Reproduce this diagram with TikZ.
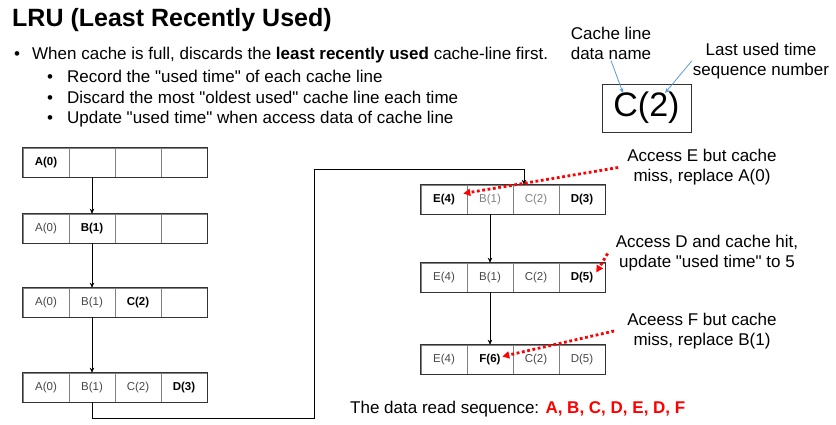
\documentclass[tikz,border=0pt]{standalone}
\usepackage{fontspec}
\setmainfont{Liberation Sans}
\usetikzlibrary{arrows.meta}

\tikzset{
  cell/.style={minimum width=46pt, minimum height=29pt, draw=black!50,
               inner sep=0, line width=0.6pt, font=\fontsize{11.5}{13}\selectfont},
  newdata/.style={text=black, font=\fontsize{11.5}{13}\selectfont\bfseries},
  olddata/.style={text=black!72},
  faded/.style={text=black!50},
  rowframe/.style={draw=black!80, line width=0.8pt},
  flow arrow/.style={-{Stealth[length=5pt,width=4.5pt]}, black, line width=0.7pt},
  miss arrow/.style={-{Triangle[length=7pt,width=7pt]}, red, line width=2.8pt,
                     dash pattern=on 2.8pt off 2.6pt},
  label arrow/.style={-{Stealth[length=5pt,width=4pt]}, lblue, line width=0.8pt},
  body text/.style={font=\fontsize{17}{20}\selectfont, inner sep=0},
  callout/.style={font=\fontsize{17}{20}\selectfont, align=center, inner sep=1pt},
}
\definecolor{lblue}{HTML}{5B9BD5}

\begin{document}
\begin{tikzpicture}[x=1pt, y=-1pt]
    \useasboundingbox (0,0) rectangle (836,425);

    % --- heading and bullets ---
    \node[anchor=base west, inner sep=0, font=\fontsize{25}{30}\selectfont\bfseries]
      (title) at (12,27) {LRU (Least Recently Used)};
    \node[anchor=base west, body text] (dot1) at (14,60) {\textbullet};
    \node[anchor=base west, body text] (item1) at (32,60)
      {When cache is full, discards the \textbf{least recently used} cache-line first.};
    \node[anchor=base west, body text] (dot2) at (47,83) {\textbullet};
    \node[anchor=base west, body text] (item2) at (67,83)
      {Record the \textquotedbl used time\textquotedbl{} of each cache line};
    \node[anchor=base west, body text] (dot3) at (47,104) {\textbullet};
    \node[anchor=base west, body text] (item3) at (67,104)
      {Discard the most \textquotedbl oldest used\textquotedbl{} cache line each time};
    \node[anchor=base west, body text] (dot4) at (47,124) {\textbullet};
    \node[anchor=base west, body text] (item4) at (67,124)
      {Update \textquotedbl used time\textquotedbl{} when access data of cache line};

    % --- legend: C(2) ---
    \node[draw=black!80, line width=0.8pt, minimum width=89pt, minimum height=48pt,
          inner sep=0, font=\fontsize{34}{40}\selectfont] (cbox) at (646.5,108) {C(2)};
    \node[callout, align=left] (namelbl) at (611,43) {Cache line\\data name};
    \node[callout] (seqlbl) at (761,61) {Last used time\\sequence number};
    \coordinate (nametip) at (623,93);
    \coordinate (seqtip) at (665,93);
    \draw[label arrow] (namelbl.south) -- (nametip);
    \draw[label arrow] (seqlbl.west) -- (seqtip);

    % --- left column: A, B, C, D ---
    \foreach \c/\t/\s in {1/A(0)/newdata, 2//olddata, 3//olddata, 4//olddata}
      \node[cell, \s] (L1c\c) at (\c*46, 162.5) {\t};
    \draw[rowframe] (L1c1.north west) rectangle (L1c4.south east);

    \foreach \c/\t/\s in {1/A(0)/olddata, 2/B(1)/newdata, 3//olddata, 4//olddata}
      \node[cell, \s] (L2c\c) at (\c*46, 228.5) {\t};
    \draw[rowframe] (L2c1.north west) rectangle (L2c4.south east);

    \foreach \c/\t/\s in {1/A(0)/olddata, 2/B(1)/olddata, 3/C(2)/newdata, 4//olddata}
      \node[cell, \s] (L3c\c) at (\c*46, 302.5) {\t};
    \draw[rowframe] (L3c1.north west) rectangle (L3c4.south east);

    \foreach \c/\t/\s in {1/A(0)/olddata, 2/B(1)/olddata, 3/C(2)/olddata, 4/D(3)/newdata}
      \node[cell, \s] (L4c\c) at (\c*46, 387.5) {\t};
    \draw[rowframe] (L4c1.north west) rectangle (L4c4.south east);

    \draw[flow arrow] (L1c2) -- (L2c2);
    \draw[flow arrow] (L2c2) -- (L3c2);
    \draw[flow arrow] (L3c2) -- (L4c2);

    % --- right column: E, D, F ---
    \foreach \c/\t/\s in {1/E(4)/newdata, 2/B(1)/faded, 3/C(2)/faded, 4/D(3)/newdata}
      \node[cell, \s] (R1c\c) at (398+\c*46, 199.5) {\t};
    \draw[rowframe] (R1c1.north west) rectangle (R1c4.south east);

    \foreach \c/\t/\s in {1/E(4)/olddata, 2/B(1)/olddata, 3/C(2)/olddata, 4/D(5)/newdata}
      \node[cell, \s] (R2c\c) at (398+\c*46, 277.5) {\t};
    \draw[rowframe] (R2c1.north west) rectangle (R2c4.south east);

    \foreach \c/\t/\s in {1/E(4)/olddata, 2/F(6)/newdata, 3/C(2)/olddata, 4/D(5)/olddata}
      \node[cell, \s] (R3c\c) at (398+\c*46, 359.5) {\t};
    \draw[rowframe] (R3c1.north west) rectangle (R3c4.south east);

    \coordinate (bend1) at (314,418);
    \coordinate (bend2) at (524,169);
    \draw[flow arrow] (L4c2.south) |- (bend1) |- (bend2) -- (bend2 |- R1c3.north);
    \draw[flow arrow] (R1c2) -- (R2c2);
    \draw[flow arrow] (R2c2) -- (R3c2);

    % --- callouts ---
    \node[callout] (noteE) at (702,167.5) {Access E but cache\\miss, replace A(0)};
    \node[callout] (noteD) at (707,253.5) {Access D and cache hit,\\update \textquotedbl used time\textquotedbl{} to 5};
    \node[callout] (noteF) at (702,331) {Aceess F but cache\\miss, replace B(1)};
    \draw[miss arrow] ([xshift=-8pt]noteE.west) -- ([xshift=-4pt,yshift=6pt]R1c1.east);
    \draw[miss arrow] ([xshift=-7pt]noteD.west) -- ([xshift=-9pt,yshift=5pt]R2c4.east);
    \draw[miss arrow] ([xshift=-12pt]noteF.west) -- ([xshift=-11pt,yshift=3pt]R3c2.east);

    \node[anchor=base west, body text] (readseq) at (350,413)
      {The data read sequence: \textcolor{red}{\textbf{A, B, C, D, E, D, F}}};
\end{tikzpicture}
\end{document}
